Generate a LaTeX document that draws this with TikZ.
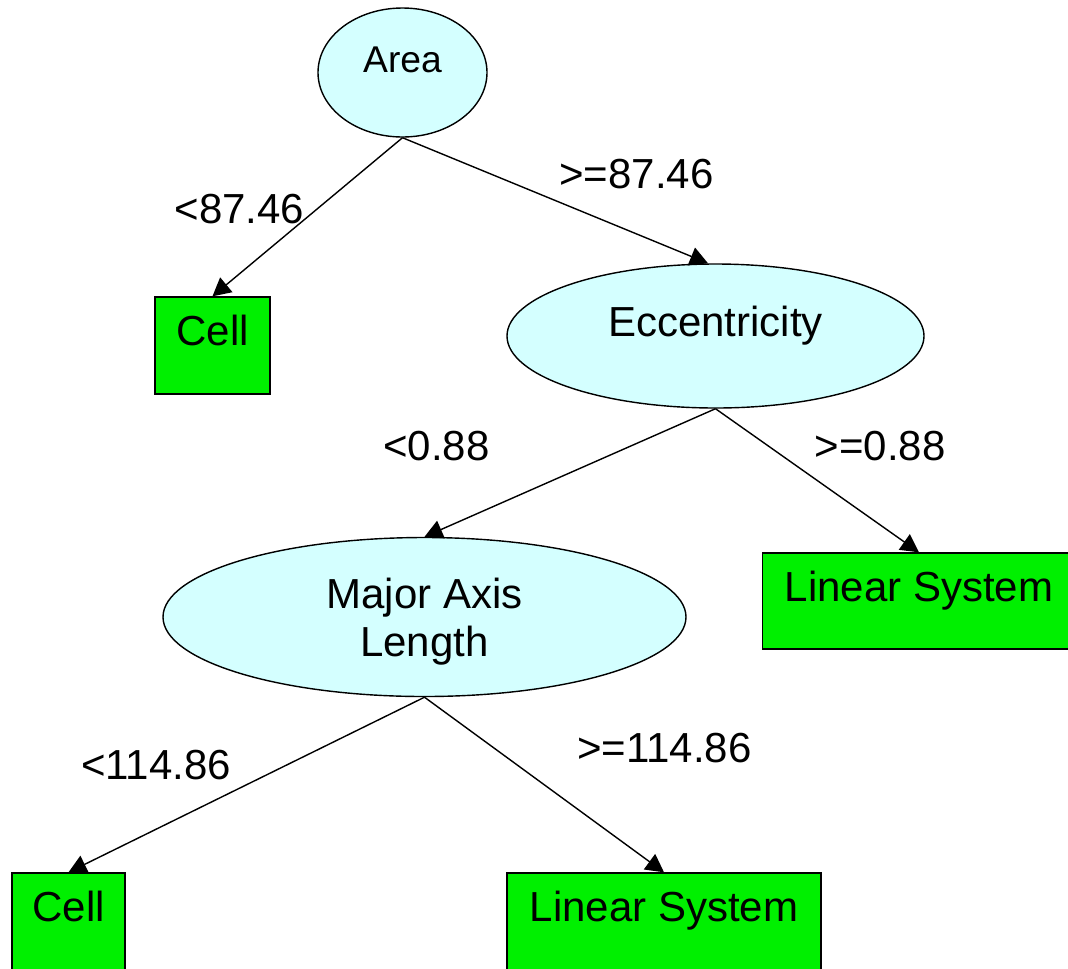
\documentclass[tikz,border=0pt]{standalone}
\usepackage{fontspec}
\setmainfont{Liberation Sans}
\usepackage{xcolor}
\usetikzlibrary{arrows.meta, shapes.geometric}
\definecolor{splitcyan}{RGB}{212,255,255}
\definecolor{leafgreen}{RGB}{0,240,0}

\begin{document}
\begin{tikzpicture}[>={Triangle[length=3.6mm, width=3.8mm]}, line width=0.8pt,
  every node/.style={font=\fontsize{23.9}{27.2}\selectfont},
  split/.style={draw, ellipse, fill=splitcyan, inner sep=0pt},
  leaf/.style={draw, rectangle, fill=leafgreen, inner sep=0pt},
  midbase/.style={text height=4.5mm, text depth=4.5mm}]
  \useasboundingbox (0,0) rectangle (21.36,-19.36);
  \clip (0,0) rectangle (21.36,-19.36);
  \node[split, midbase, minimum width=3.38cm, minimum height=2.58cm, font=\fontsize{21.2}{24}\selectfont] (area) at (8.05,-1.45) {Area};
  \node[leaf, midbase, minimum width=2.30cm, minimum height=1.94cm] (cellA) at (4.25,-6.91) {Cell};
  \node[split, midbase, minimum width=8.34cm, minimum height=2.88cm] (ecc) at (14.31,-6.72) {Eccentricity};
  \node[split, align=center, text depth=0pt, minimum width=10.46cm, minimum height=3.18cm] (mal) at (8.49,-12.34) {Major Axis\\Length};
  \node[leaf, midbase, minimum width=6.26cm, minimum height=1.92cm] (lsA) at (18.38,-12.02) {Linear System};
  \node[leaf, midbase, minimum width=2.26cm, minimum height=1.94cm] (cellB) at (1.37,-18.43) {Cell};
  \node[leaf, midbase, minimum width=6.28cm, minimum height=1.94cm] (lsB) at (13.28,-18.43) {Linear System};
  \draw[->] (area.south) -- (cellA.north);
  \draw[->] (area.south) -- ([xshift=-1.5mm]ecc.north);
  \draw[->] (ecc.south) -- (mal.north);
  \draw[->] (ecc.south) -- (lsA.north);
  \draw[->] (mal.south) -- (cellB.north);
  \draw[->] (mal.south) -- (lsB.north);
  \node (lblAreaLt) at (4.79,-4.18) {<87.46};
  \node (lblAreaGe) at (12.73,-3.48) {>=87.46};
  \node (lblEccLt) at (8.73,-8.92) {<0.88};
  \node (lblEccGe) at (17.60,-8.92) {>=0.88};
  \node (lblMalLt) at (3.12,-15.30) {<114.86};
  \node (lblMalGe) at (13.29,-14.96) {>=114.86};
\end{tikzpicture}
\end{document}
